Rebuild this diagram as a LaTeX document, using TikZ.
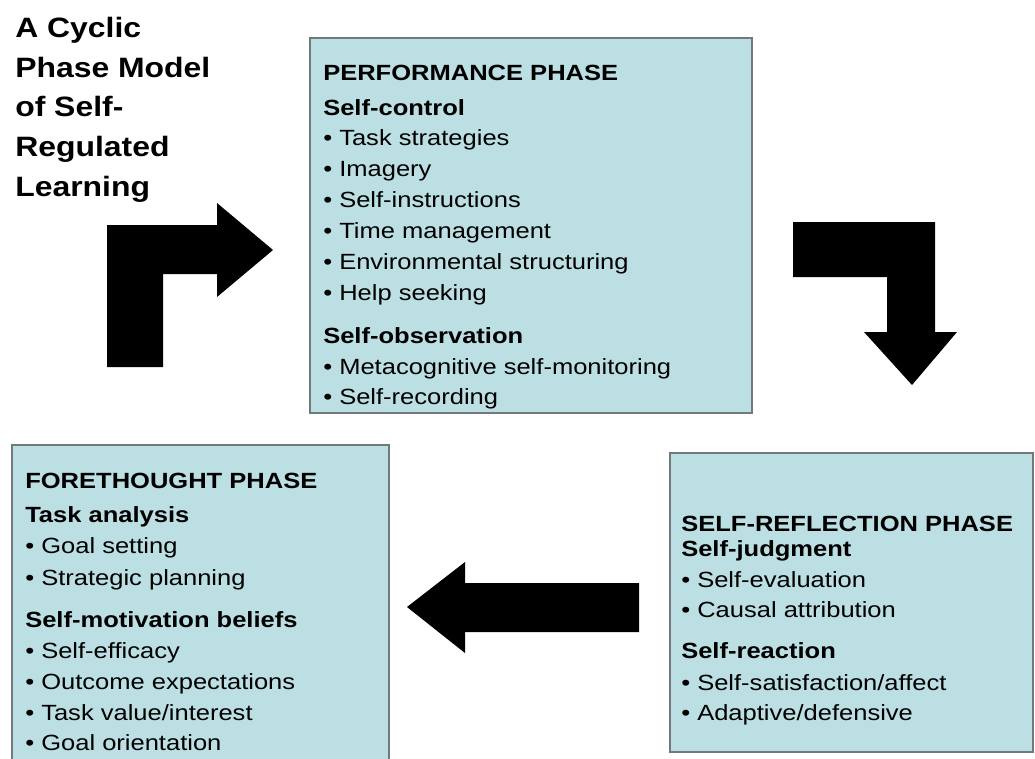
\documentclass[tikz,border=0pt]{standalone}
\usepackage{fontspec}
\setmainfont{Liberation Sans}[FakeStretch=1.16]
\newfontfamily\titlefont{Liberation Sans}[FakeStretch=1.14]
\definecolor{phasefill}{RGB}{187,223,227}
\definecolor{phaseline}{RGB}{112,122,124}
\tikzset{
  phasebox/.style={draw=phaseline, fill=phasefill, line width=1.5pt},
  bigarrow/.style={fill=black},
  titleline/.style={anchor=base west, inner sep=0pt, font=\titlefont\bfseries\fontsize{21}{25}\selectfont},
  phasehead/.style={anchor=base west, inner sep=0pt, font=\bfseries\fontsize{16.5}{20}\selectfont},
  subhead/.style={anchor=base west, inner sep=0pt, font=\bfseries\fontsize{16.5}{20}\selectfont},
  item/.style={anchor=base west, inner sep=0pt, font=\fontsize{16.5}{20}\selectfont}
}
\begin{document}
\begin{tikzpicture}[x=0.75pt,y=-0.75pt]
  \useasboundingbox (0,0) rectangle (1035,758);
  \clip (0,0) rectangle (1035,758);
  \fill[white] (0,0) rectangle (1035,758);

  % title
  \node[titleline] (t1) at (15,37) {A Cyclic};
  \node[titleline] (t2) at (15,77) {Phase Model};
  \node[titleline] (t3) at (15,116) {of Self-};
  \node[titleline] (t4) at (15,156) {Regulated};
  \node[titleline] (t5) at (15,196) {Learning};

  % boxes
  \draw[phasebox] (310,38) rectangle (752,413);
  \draw[phasebox] (12,445) rectangle (389,775);
  \draw[phasebox] (670,453) rectangle (1033,752);

  % performance
  \node[phasehead] (perf) at (323,80) {PERFORMANCE PHASE};
  \node[subhead] (control) at (323,115) {Self-control};
  \node[item] (p1) at (323,145) {• Task strategies};
  \node[item] (p2) at (323,176) {• Imagery};
  \node[item] (p3) at (323,207) {• Self-instructions};
  \node[item] (p4) at (323,238) {• Time management};
  \node[item] (p5) at (323,269) {• Environmental structuring};
  \node[item] (p6) at (323,300) {• Help seeking};
  \node[subhead] (observ) at (323,343) {Self-observation};
  \node[item] (p7) at (323,374) {• Metacognitive self-monitoring};
  \node[item] (p8) at (323,404) {• Self-recording};

  % forethought
  \node[phasehead] (fore) at (25,488) {FORETHOUGHT PHASE};
  \node[subhead] (analysis) at (25,522) {Task analysis};
  \node[item] (f1) at (25,553) {• Goal setting};
  \node[item] (f2) at (25,585) {• Strategic planning};
  \node[subhead] (motiv) at (25,627) {Self-motivation beliefs};
  \node[item] (f3) at (25,658) {• Self-efficacy};
  \node[item] (f4) at (25,689) {• Outcome expectations};
  \node[item] (f5) at (25,720) {• Task value/interest};
  \node[item] (f6) at (25,750) {• Goal orientation};

  % self-reflection
  \node[phasehead] (refl) at (681,531) {SELF-REFLECTION PHASE};
  \node[subhead] (judg) at (681,556) {Self-judgment};
  \node[item] (r1) at (681,587) {• Self-evaluation};
  \node[item] (r2) at (681,617) {• Causal attribution};
  \node[subhead] (react) at (681,658) {Self-reaction};
  \node[item] (r3) at (681,690) {• Self-satisfaction/affect};
  \node[item] (r4) at (681,720) {• Adaptive/defensive};

  % arrows
  \fill[bigarrow] (107,367) -- (107,225) -- (217,225) -- (217,203) -- (273,250)
    -- (217,297) -- (217,274) -- (163,274) -- (163,367) -- cycle;
  \fill[bigarrow] (793,222) -- (935,222) -- (935,332) -- (957,332) -- (912,385)
    -- (864,332) -- (887,332) -- (887,277) -- (793,277) -- cycle;
  \fill[bigarrow] (639,583) -- (465,583) -- (465,562) -- (407,607) -- (465,653)
    -- (465,632) -- (639,632) -- cycle;
\end{tikzpicture}
\end{document}
